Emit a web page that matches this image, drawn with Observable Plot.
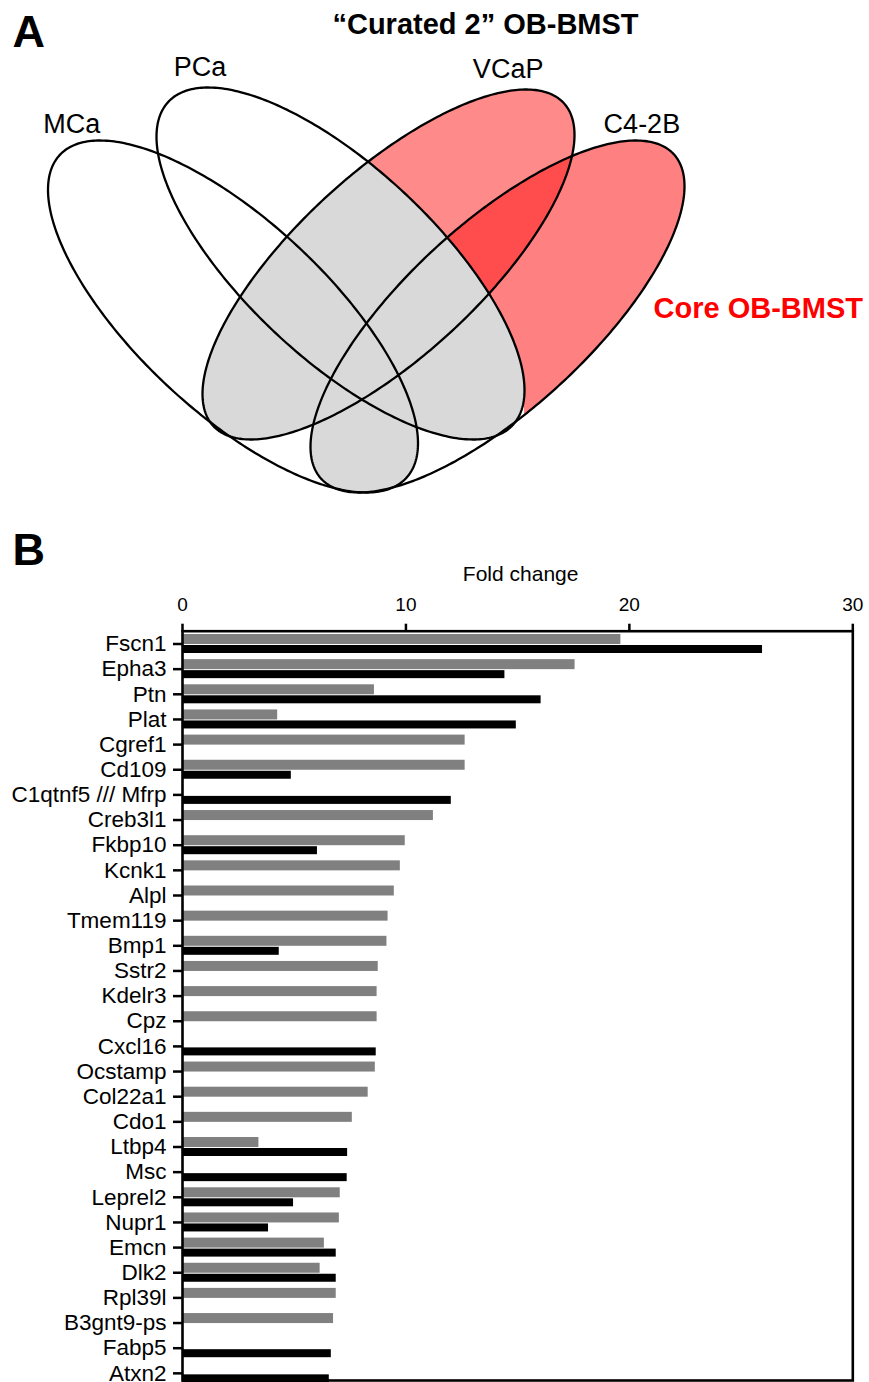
<!DOCTYPE html>
<html>
<head>
<meta charset="utf-8">
<script src="https://cdn.jsdelivr.net/npm/d3@7"></script>
<script src="https://cdn.jsdelivr.net/npm/@observablehq/plot@0.6"></script>
<style>
  html, body { margin: 0; padding: 0; background: #fff; }
  #wrap { width: 869px; height: 1382px; overflow: hidden; position: relative; background: #fff; }
  #wrap svg { display: block; }
</style>
</head>
<body>
<div id="wrap"></div>
<script>
// ---------------- Panel A: Venn diagram data ----------------
const vennSets  = ["MCa", "PCa", "VCaP", "C4-2B"];
const vennCx    = [232.5, 340, 388, 497];     // ellipse centres (venn units)
const vennCy    = [316, 263, 264, 316];
const vennHalfW = [185, 184, 186, 187];       // half extent along x
const vennHalfH = [176, 176, 175, 176];       // half extent along y
const vennTilt  = [0.72, 0.72, -0.74, -0.74]; // x–y correlation of each ellipse
const panelATitle = "\u201CCurated 2\u201D OB-BMST";
const coreLabel = "Core OB-BMST";

// ---------------- Panel B: bar chart data ----------------
const genes = ["Fscn1","Epha3","Ptn","Plat","Cgref1","Cd109","C1qtnf5 /// Mfrp","Creb3l1","Fkbp10","Kcnk1",
  "Alpl","Tmem119","Bmp1","Sstr2","Kdelr3","Cpz","Cxcl16","Ocstamp","Col22a1","Cdo1",
  "Ltbp4","Msc","Leprel2","Nupr1","Emcn","Dlk2","Rpl39l","B3gnt9-ps","Fabp5","Atxn2"];
const greyFold  = [19.62,17.57,8.59,4.26,12.65,12.65,null,11.23,9.97,9.75,
  9.48,9.2,9.15,8.76,8.71,8.71,null,8.63,8.31,7.6,
  3.42,null,7.06,7.02,6.35,6.16,6.88,6.76,null,null];
const blackFold = [25.96,14.43,16.05,14.94,null,4.87,12.03,null,6.04,null,
  null,null,4.33,null,null,null,8.67,null,null,null,
  7.39,7.37,4.97,3.85,6.88,6.88,null,null,6.66,6.57];
const foldTicks = [0, 10, 20, 30];
const foldLabel = "Fold change";

// ---------------- helpers ----------------
const FONT = "Liberation Sans, Arial, Helvetica, sans-serif";
const W = 869, HA = 505, HB = 1382 - HA;

function outline(i) {
  const rho = vennTilt[i], s = Math.sqrt(1 - rho * rho);
  return d3.range(0, 360, 1).map(deg => {
    const t = deg * Math.PI / 180;
    return {
      set: vennSets[i],
      x: vennCx[i] + vennHalfW[i] * Math.cos(t),
      y: vennCy[i] + vennHalfH[i] * (rho * Math.cos(t) + s * Math.sin(t))
    };
  });
}
const outlines = vennSets.map((_, i) => outline(i));
const tops = vennSets.map((name, i) => ({
  name, x: vennCx[i] - vennTilt[i] * vennHalfW[i], y: vennCy[i] - vennHalfH[i]
}));
const labelShift = {"MCa": [-28, -8], "PCa": [-8, -12], "VCaP": [-18, -12], "C4-2B": [6, -8]};

// the small C4-2B-only pocket under the PCa tip is left white in the figure
const pocket = [{
  x1: vennCx[3] - vennHalfW[3],
  x2: vennCx[1] + vennHalfW[1],
  y1: vennCy[1] + vennTilt[1] * vennHalfH[1],
  y2: HA
}];

// ---------------- Panel A plot ----------------
const lineOpts = {x: "x", y: "y", curve: "linear-closed", stroke: "none"};
const venn = Plot.plot({
  width: W, height: HA, margin: 0,
  style: {fontFamily: FONT, background: "white", color: "black", overflow: "visible"},
  x: {domain: [0, W], range: [0, W], axis: null},
  y: {domain: [0, HA], range: [0, HA], axis: null},
  marks: [
    Plot.line(outlines[2], {...lineOpts, fill: "#ff8a8a"}),
    Plot.line(outlines[3], {...lineOpts, fill: "#ff8080"}),
    Plot.line(outlines[2], {...lineOpts, fill: "#ff4d4d"}),
    Plot.rect(pocket, {x1: "x1", x2: "x2", y1: "y1", y2: "y2", fill: "white"}),
    Plot.line([...outlines[0], ...outlines[1]], {...lineOpts, z: "set", fill: "#d9d9d9"}),
    Plot.line(outlines.flat(), {x: "x", y: "y", z: "set", curve: "linear-closed", fill: "none",
      stroke: "black", strokeWidth: 2.3}),
    ...tops.map(d => Plot.text([d], {x: "x", y: "y", text: "name", dx: labelShift[d.name][0], dy: labelShift[d.name][1],
      lineAnchor: "bottom", textAnchor: "middle", fontSize: 27, fontFamily: FONT, fill: "black"})),
    Plot.text(["A"], {frameAnchor: "top-left", dx: 12, dy: 46, lineAnchor: "bottom", textAnchor: "start",
      fontSize: 45, fontWeight: "bold", fontFamily: FONT, fill: "black"}),
    Plot.text([panelATitle], {frameAnchor: "top-left", dx: 485, dy: 33, lineAnchor: "bottom", textAnchor: "middle",
      fontSize: 29, fontWeight: "bold", fontFamily: FONT, fill: "black"}),
    Plot.text([coreLabel], {frameAnchor: "top-left", dx: 653, dy: 317, lineAnchor: "bottom", textAnchor: "start",
      fontSize: 29, fontWeight: "bold", fontFamily: FONT, fill: "#ff0000"})
  ]
});

// clip the overlap fills: dark red & white pocket only inside C4-2B, grey only inside VCaP ∪ C4-2B
(function clipFills(svg) {
  const groups = [...svg.children].filter(e => e.tagName.toLowerCase() === "g");
  const [gV, gC, gCore, gPocket, gGrey] = groups;
  const ns = "http://www.w3.org/2000/svg";
  let defs = svg.querySelector("defs");
  if (!defs) { defs = document.createElementNS(ns, "defs"); svg.insertBefore(defs, svg.firstChild); }
  const cp1 = document.createElementNS(ns, "clipPath"); cp1.setAttribute("id", "clip-c42b");
  gC.querySelectorAll("path").forEach(p => cp1.appendChild(p.cloneNode()));
  const cp2 = document.createElementNS(ns, "clipPath"); cp2.setAttribute("id", "clip-core-union");
  gV.querySelectorAll("path").forEach(p => cp2.appendChild(p.cloneNode()));
  gC.querySelectorAll("path").forEach(p => cp2.appendChild(p.cloneNode()));
  defs.appendChild(cp1); defs.appendChild(cp2);
  gCore.setAttribute("clip-path", "url(#clip-c42b)");
  gPocket.setAttribute("clip-path", "url(#clip-c42b)");
  gGrey.setAttribute("clip-path", "url(#clip-core-union)");
})(venn);

// ---------------- Panel B plot ----------------
const rows = genes.map((gene, i) => ({gene, grey: greyFold[i], black: blackFold[i]}));
const step = 25.15, firstCenter = 138.5, pad = 0.2;
const r0 = firstCenter - step * (1 + pad) / 2;
const bw = step * (1 - pad);

const bars = Plot.plot({
  width: W, height: HB,
  marginLeft: 182, marginRight: 16.7, marginTop: 125.7, marginBottom: 2,
  style: {fontFamily: FONT, background: "white", color: "black", overflow: "hidden"},
  x: {domain: [0, 30], axis: null},
  y: {domain: genes, range: [r0, r0 + step * (genes.length + pad)], padding: pad, round: false, axis: null},
  marks: [
    Plot.barX(rows.filter(d => d.grey != null), {x: "grey", y: "gene", fill: "#808080",
      insetTop: bw / 2 - 9.5, insetBottom: bw / 2 - 0.5}),
    Plot.barX(rows.filter(d => d.black != null), {x: "black", y: "gene", fill: "#000000",
      insetTop: bw / 2 + 1.5, insetBottom: bw / 2 - 9.5}),
    Plot.frame({stroke: "black", strokeWidth: 2.6}),
    Plot.axisX({anchor: "top", ticks: foldTicks, tickSize: 8, tickPadding: 12, fontSize: 19,
      label: null, strokeWidth: 2.5, fontFamily: FONT}),
    Plot.axisY({anchor: "left", tickSize: 9, tickPadding: 7, fontSize: 22.5,
      label: null, strokeWidth: 2.5, fontFamily: FONT}),
    Plot.text([foldLabel], {frameAnchor: "top", dx: 3, dy: -50.5, lineAnchor: "bottom", textAnchor: "middle",
      fontSize: 21, fontFamily: FONT, fill: "black"}),
    Plot.text(["B"], {frameAnchor: "top-left", dx: -170, dy: -66.7, lineAnchor: "bottom", textAnchor: "start",
      fontSize: 45, fontWeight: "bold", fontFamily: FONT, fill: "black"})
  ]
});

const wrap = document.getElementById("wrap");
wrap.appendChild(venn);
wrap.appendChild(bars);
</script>
</body>
</html>
